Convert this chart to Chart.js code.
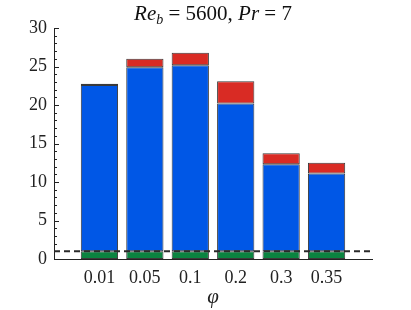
<!DOCTYPE html>
<html>
<head>
<meta charset="utf-8">
<script src="https://cdn.jsdelivr.net/npm/chart.js@4"></script>
<style>
  body { margin: 0; background: #fff; }
  #wrap { position: relative; width: 411px; height: 310px; }
  #title { position: absolute; top: 1px; left: 0; width: 426px; text-align: center;
           font-family: "Liberation Serif", serif; font-size: 21px; color: #111; }
  #title i { font-style: italic; }
  #title sub { font-size: 14px; vertical-align: -4px; line-height: 0; }
</style>
</head>
<body>
<div id="wrap">
  <div id="title"><i>Re</i><sub><i>b</i></sub> = 5600, <i>Pr</i> = 7</div>
  <canvas id="barChart" width="411" height="310"></canvas>
</div>
<script>
const categories = ['0.01', '0.05', '0.1', '0.2', '0.3', '0.35'];
const positions = [1, 2, 3, 4, 5, 6];
const greenPart = [1, 1, 1, 1, 1, 1];
const bluePart = [21.6, 23.9, 24.15, 19.2, 11.3, 10.1];
const redPart = [0.15, 1.1, 1.65, 2.9, 1.45, 1.4];
const refLine = 1;
const yTicks = [0, 5, 10, 15, 20, 25, 30];

function pts(vals) {
    return vals.map((v, i) => ({ x: positions[i], y: v }));
}

const tickPlugin = {
    id: 'ticksAndLine',
    afterDatasetsDraw(chart) {
        const ctx = chart.ctx;
        const y = chart.scales.y;
        const area = chart.chartArea;
        ctx.save();
        // inward ticks
        ctx.strokeStyle = '#222';
        ctx.lineWidth = 1;
        for (let v = 0; v <= 30; v++) {
            const py = Math.round(y.getPixelForValue(v)) + 0.5;
            const len = yTicks.includes(v) ? 5 : 3;
            ctx.beginPath();
            ctx.moveTo(area.left, py);
            ctx.lineTo(area.left + len, py);
            ctx.stroke();
        }
        // dashed reference line
        const py = y.getPixelForValue(refLine);
        ctx.setLineDash([6, 4]);
        ctx.lineWidth = 2;
        ctx.strokeStyle = '#2a2a2a';
        ctx.beginPath();
        ctx.moveTo(area.left, py);
        ctx.lineTo(area.right, py);
        ctx.stroke();
        ctx.restore();
    }
};

const ctx = document.getElementById('barChart');
const barChart = new Chart(ctx, {
    type: 'bar',
    data: {
        datasets: [
            { label: 'green', data: pts(greenPart), backgroundColor: '#0a8440' },
            { label: 'blue', data: pts(bluePart), backgroundColor: '#0057e6' },
            { label: 'red', data: pts(redPart), backgroundColor: '#d92b24' }
        ]
    },
    options: {
        responsive: false,
        animation: false,
        datasets: {
            bar: {
                borderColor: '#3a3a3a',
                borderWidth: 1,
                borderSkipped: false,
                barPercentage: 0.82,
                categoryPercentage: 1
            }
        },
        layout: { padding: { top: 28, right: 39, left: 0, bottom: 0 } },
        plugins: {
            legend: { display: false },
            tooltip: { enabled: false }
        },
        scales: {
            x: {
                type: 'linear',
                offset: false,
                stacked: true,
                min: 0,
                max: 7,
                grid: { display: false, drawTicks: false },
                border: { display: true, color: '#222', width: 1 },
                afterBuildTicks(scale) {
                    scale.ticks = positions.map(p => ({ value: p }));
                },
                afterFit(scale) { scale.height = 51; },
                ticks: {
                    padding: 8,
                    autoSkip: false,
                    maxRotation: 0,
                    color: '#222',
                    font: { family: 'Liberation Serif', size: 18 },
                    callback: (v) => categories[positions.indexOf(v)] ?? ''
                },
                title: {
                    display: true,
                    text: 'φ',
                    color: '#222',
                    padding: { top: 3, bottom: 0 },
                    font: { family: 'Liberation Serif', size: 21, style: 'italic' }
                }
            },
            y: {
                stacked: true,
                min: 0,
                max: 30,
                grid: { display: false, drawTicks: false },
                border: { display: true, color: '#222', width: 1 },
                afterBuildTicks(scale) {
                    scale.ticks = yTicks.map(v => ({ value: v }));
                },
                afterFit(scale) { scale.width = 54; },
                ticks: {
                    padding: 7,
                    color: '#222',
                    font: { family: 'Liberation Serif', size: 18 }
                }
            }
        }
    },
    plugins: [tickPlugin]
});
</script>
</body>
</html>
